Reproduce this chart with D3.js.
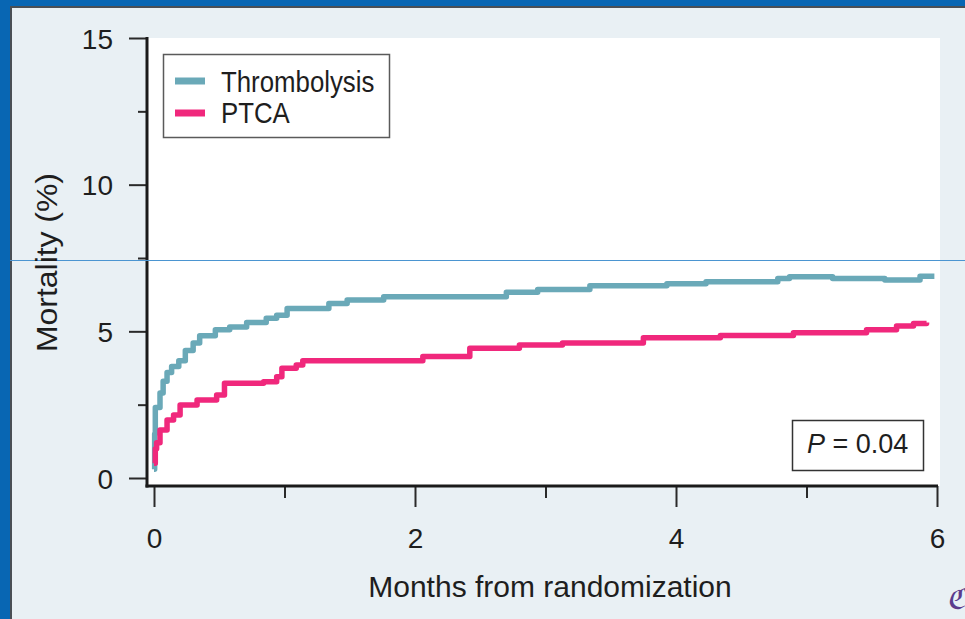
<!DOCTYPE html>
<html>
<head>
<meta charset="utf-8">
<script src="https://cdn.jsdelivr.net/npm/d3@7"></script>
<style>
  html, body { margin: 0; padding: 0; background: #e9f0f4; }
  svg { display: block; }
  text { font-family: "Liberation Sans", Arial, sans-serif; fill: #1e1e1e; }
</style>
</head>
<body>
<svg id="chart" width="965" height="619"></svg>
<script>
// ---- data (months from randomization, mortality %) ----
const seriesNames = ["Thrombolysis", "PTCA"];
const seriesColors = ["#6aa9b8", "#f0287c"];
const thrombolysisMonths = [0, 0.005, 0.01, 0.046, 0.07, 0.1, 0.135, 0.19, 0.24, 0.3, 0.35, 0.47, 0.58, 0.71, 0.86, 0.94, 1.02, 1.34, 1.48, 1.76, 2.70, 2.94, 3.34, 3.93, 4.23, 4.78, 4.87, 5.2, 5.6, 5.87, 5.98];
const thrombolysisValues = [0.3, 1.5, 2.4, 2.9, 3.3, 3.6, 3.8, 4.0, 4.35, 4.6, 4.85, 5.05, 5.15, 5.3, 5.45, 5.55, 5.78, 5.95, 6.07, 6.18, 6.33, 6.43, 6.55, 6.62, 6.69, 6.8, 6.86, 6.8, 6.75, 6.88, 6.88];
const ptcaMonths = [0, 0.01, 0.02, 0.046, 0.1, 0.15, 0.2, 0.33, 0.48, 0.54, 0.84, 0.94, 0.98, 1.09, 1.14, 2.06, 2.42, 2.80, 3.13, 3.75, 4.34, 4.90, 5.46, 5.69, 5.82, 5.92];
const ptcaValues = [0.5, 1.0, 1.2, 1.64, 1.98, 2.15, 2.49, 2.66, 2.83, 3.23, 3.28, 3.45, 3.74, 3.85, 4.0, 4.14, 4.42, 4.53, 4.6, 4.78, 4.86, 4.95, 5.05, 5.18, 5.27, 5.3];
const xTicks = [0, 2, 4, 6];
const xMinorTicks = [1, 3, 5];
const yTicks = [0, 5, 10, 15];
const yMinorTicks = [2.5, 7.5, 12.5];
const xTitle = "Months from randomization";
const yTitle = "Mortality (%)";
const pLabel = "P";
const pValue = " = 0.04";

const svg = d3.select("#chart");
const W = 965, H = 619;

// background + frame
svg.append("rect").attr("width", W).attr("height", H).attr("fill", "#e9f0f4");
svg.append("rect").attr("x", 0).attr("y", 0).attr("width", W).attr("height", 6).attr("fill", "#0866b3");
svg.append("rect").attr("x", 0).attr("y", 0).attr("width", 10).attr("height", H).attr("fill", "#0866b3");
svg.append("line").attr("x1", 10).attr("x2", W).attr("y1", 7).attr("y2", 7).attr("stroke", "#4a4f55").attr("stroke-width", 2);
svg.append("line").attr("x1", 11).attr("x2", 11).attr("y1", 6).attr("y2", H).attr("stroke", "#4a4f55").attr("stroke-width", 2);

// scales
const x = d3.scaleLinear().domain([0, 6]).range([154, 937]);
const y = d3.scaleLinear().domain([0, 15]).range([478, 38]);
const axisX = 147, axisY = 486;

// plot area
svg.append("rect").attr("x", axisX).attr("y", y(15)).attr("width", 940 - axisX).attr("height", axisY - y(15)).attr("fill", "#ffffff");

// axes
const gy = svg.append("g").attr("transform", `translate(${axisX},0)`)
  .call(d3.axisLeft(y).tickValues(yTicks).tickSize(18).tickSizeOuter(0).tickPadding(16).tickFormat(d3.format("d")));
const gyMinor = svg.append("g").attr("transform", `translate(${axisX},0)`)
  .call(d3.axisLeft(y).tickValues(yMinorTicks).tickSize(9).tickSizeOuter(0).tickFormat(""));
const gx = svg.append("g").attr("transform", `translate(0,${axisY})`)
  .call(d3.axisBottom(x).tickValues(xTicks).tickSize(21).tickSizeOuter(0).tickPadding(21).tickFormat(d3.format("d")));
const gxMinor = svg.append("g").attr("transform", `translate(0,${axisY})`)
  .call(d3.axisBottom(x).tickValues(xMinorTicks).tickSize(12).tickSizeOuter(0).tickFormat(""));
[gy, gyMinor, gx, gxMinor].forEach(g => {
  g.select(".domain").remove();
  g.selectAll(".tick line").attr("stroke", "#2a2a2a").attr("stroke-width", 2);
  g.selectAll(".tick text").attr("font-size", 28).attr("fill", "#1e1e1e")
    .attr("font-family", '"Liberation Sans", Arial, sans-serif');
});
gy.selectAll(".tick text").attr("dy", "0.36em");
// axis lines
svg.append("line").attr("x1", axisX).attr("x2", axisX).attr("y1", y(15) - 1).attr("y2", axisY + 1.5)
  .attr("stroke", "#1a1a1a").attr("stroke-width", 3);
svg.append("line").attr("x1", axisX - 1.5).attr("x2", x(6) + 1).attr("y1", axisY).attr("y2", axisY)
  .attr("stroke", "#1a1a1a").attr("stroke-width", 3);

// artifact horizontal blue line
svg.append("line").attr("x1", 10).attr("x2", W).attr("y1", 260.5).attr("y2", 260.5)
  .attr("stroke", "#4b95d1").attr("stroke-width", 1);

// series
const line = d3.line().x(d => x(d[0])).y(d => y(d[1])).curve(d3.curveStepAfter);
const seriesData = [
  d3.zip(thrombolysisMonths, thrombolysisValues),
  d3.zip(ptcaMonths, ptcaValues)
];
seriesData.forEach((data, i) => {
  svg.append("path").datum(data).attr("d", line)
    .attr("fill", "none").attr("stroke", seriesColors[i]).attr("stroke-width", 5.5)
    .attr("stroke-linejoin", "round");
});

// legend
svg.append("rect").attr("x", 163.5).attr("y", 54.5).attr("width", 226).attr("height", 83)
  .attr("fill", "#ffffff").attr("stroke", "#5a5a5a").attr("stroke-width", 1.5);
const legendY = [81, 113], legendBase = [92, 123];
seriesNames.forEach((name, i) => {
  svg.append("line").attr("x1", 175).attr("x2", 205).attr("y1", legendY[i]).attr("y2", legendY[i])
    .attr("stroke", seriesColors[i]).attr("stroke-width", 7);
  svg.append("text").attr("transform", `translate(221,${legendBase[i]}) scale(0.89,1)`)
    .attr("font-size", 29).text(name);
});

// P box
svg.append("rect").attr("x", 792.5).attr("y", 420.5).attr("width", 131).attr("height", 50)
  .attr("fill", "#ffffff").attr("stroke", "#333333").attr("stroke-width", 1.5);
const pt = svg.append("text").attr("x", 807).attr("y", 453).attr("font-size", 27);
pt.append("tspan").attr("font-style", "italic").text(pLabel);
pt.append("tspan").text(pValue);

// titles
svg.append("text").attr("x", 550).attr("y", 597).attr("text-anchor", "middle")
  .attr("font-size", 30).text(xTitle);
svg.append("text").attr("transform", "translate(57,262.5) rotate(-90) scale(1.1,1)")
  .attr("text-anchor", "middle").attr("font-size", 29).text(yTitle);

// corner logo fragment
svg.append("text").attr("x", 946).attr("y", 609).attr("font-size", 30)
  .attr("font-family", "DejaVu Serif, serif").attr("font-style", "italic")
  .style("fill", "#5b3c8c").text("ℭ");
</script>
</body>
</html>
